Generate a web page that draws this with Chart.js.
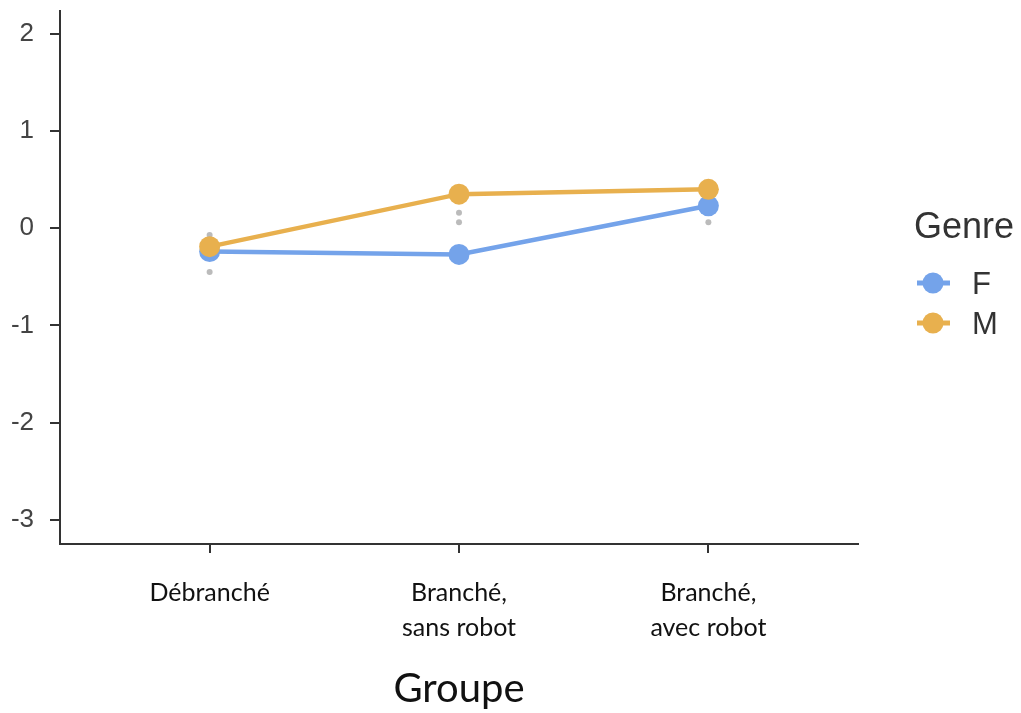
<!DOCTYPE html>
<html>
<head>
<meta charset="utf-8">
<script src="https://cdn.jsdelivr.net/npm/chart.js@4.4.0/dist/chart.umd.min.js"></script>
<style>
  html, body { margin: 0; padding: 0; background: #fff; }
</style>
</head>
<body>
<canvas id="chart" width="1021" height="713"></canvas>
<script>
// Data
const groupes = ['Débranché', 'Branché,\nsans robot', 'Branché,\navec robot'];
const valuesF = [-0.24, -0.27, 0.23];
const valuesM = [-0.19, 0.35, 0.40];
// small grey points under the markers
const greyX = [1, 1, 2, 2, 3];
const greyY = [-0.07, -0.45, 0.16, 0.06, 0.06];
const yTicks = [-3, -2, -1, 0, 1, 2];

const colF = '#74A3EA';
const colM = '#E8B04E';
const axisCol = '#333333';

const toPoints = vals => vals.map((v, i) => ({ x: i + 1, y: v }));

// legend at the right, ggplot style
const genreLegend = {
    id: 'genreLegend',
    afterDraw(chart) {
        const ctx = chart.ctx;
        ctx.save();
        ctx.fillStyle = '#333';
        ctx.textBaseline = 'alphabetic';
        ctx.textAlign = 'left';
        ctx.font = '36px "Liberation Sans", Arial, sans-serif';
        ctx.fillText('Genre', 914, 238);
        ctx.font = '31px "Liberation Sans", Arial, sans-serif';
        const items = chart.data.datasets.filter(d => d.inLegend);
        items.forEach((d, i) => {
            const y = 283 + i * 40;
            ctx.strokeStyle = d.borderColor;
            ctx.lineWidth = 5;
            ctx.beginPath();
            ctx.moveTo(917, y);
            ctx.lineTo(950, y);
            ctx.stroke();
            ctx.fillStyle = d.borderColor;
            ctx.beginPath();
            ctx.arc(933, y, 10.5, 0, Math.PI * 2);
            ctx.fill();
            ctx.fillStyle = '#333';
            ctx.fillText(d.label, 972, y + 11);
        });
        ctx.restore();
    }
};

new Chart(document.getElementById('chart'), {
    type: 'line',
    data: {
        datasets: [
            {
                label: 'grey',
                data: greyX.map((x, i) => ({ x: x, y: greyY[i] })),
                showLine: false,
                pointRadius: 3,
                pointBackgroundColor: 'rgba(170,170,170,0.8)',
                pointBorderWidth: 0,
                order: 3
            },
            {
                label: 'F',
                inLegend: true,
                data: toPoints(valuesF),
                borderColor: colF,
                backgroundColor: colF,
                borderWidth: 4.5,
                pointRadius: 10.5,
                pointBorderWidth: 0,
                pointBackgroundColor: colF,
                tension: 0,
                order: 2
            },
            {
                label: 'M',
                inLegend: true,
                data: toPoints(valuesM),
                borderColor: colM,
                backgroundColor: colM,
                borderWidth: 4.5,
                pointRadius: 10.5,
                pointBorderWidth: 0,
                pointBackgroundColor: colM,
                tension: 0,
                order: 1
            }
        ]
    },
    options: {
        responsive: false,
        animation: false,
        devicePixelRatio: 1,
        layout: { padding: { left: 0, top: 10, right: 163, bottom: 0 } },
        plugins: {
            legend: { display: false },
            tooltip: { enabled: false }
        },
        scales: {
            x: {
                type: 'linear',
                min: 0.4,
                max: 3.6,
                afterBuildTicks: axis => { axis.ticks = [1, 2, 3].map(v => ({ value: v })); },
                afterFit: axis => {
                    axis.height = 169;
                    axis.paddingLeft = 0;
                    axis.paddingRight = 0;
                },
                ticks: {
                    callback: v => groupes[v - 1].split('\n'),
                    color: '#111',
                    font: { family: 'Lato, "Liberation Sans", sans-serif', size: 25, lineHeight: 1.4 },
                    padding: 22,
                    maxRotation: 0,
                    autoSkip: false
                },
                grid: { drawOnChartArea: false, drawTicks: true, tickLength: 9, color: axisCol, lineWidth: 2 },
                border: { display: true, color: axisCol, width: 2 },
                title: {
                    display: true,
                    text: 'Groupe',
                    color: '#111',
                    font: { family: 'Lato, "Liberation Sans", sans-serif', size: 40 },
                    padding: { top: 0, bottom: 0 }
                }
            },
            y: {
                min: -3.25,
                max: 2.24,
                afterBuildTicks: axis => { axis.ticks = yTicks.map(v => ({ value: v })); },
                afterFit: axis => {
                    axis.width = 60;
                    axis.paddingTop = 0;
                    axis.paddingBottom = 0;
                },
                ticks: {
                    color: '#444',
                    font: { family: '"Liberation Sans", Arial, sans-serif', size: 26 },
                    padding: 16
                },
                grid: { drawOnChartArea: false, drawTicks: true, tickLength: 10, color: axisCol, lineWidth: 2 },
                border: { display: true, color: axisCol, width: 2 }
            }
        }
    },
    plugins: [genreLegend]
});
</script>
</body>
</html>
